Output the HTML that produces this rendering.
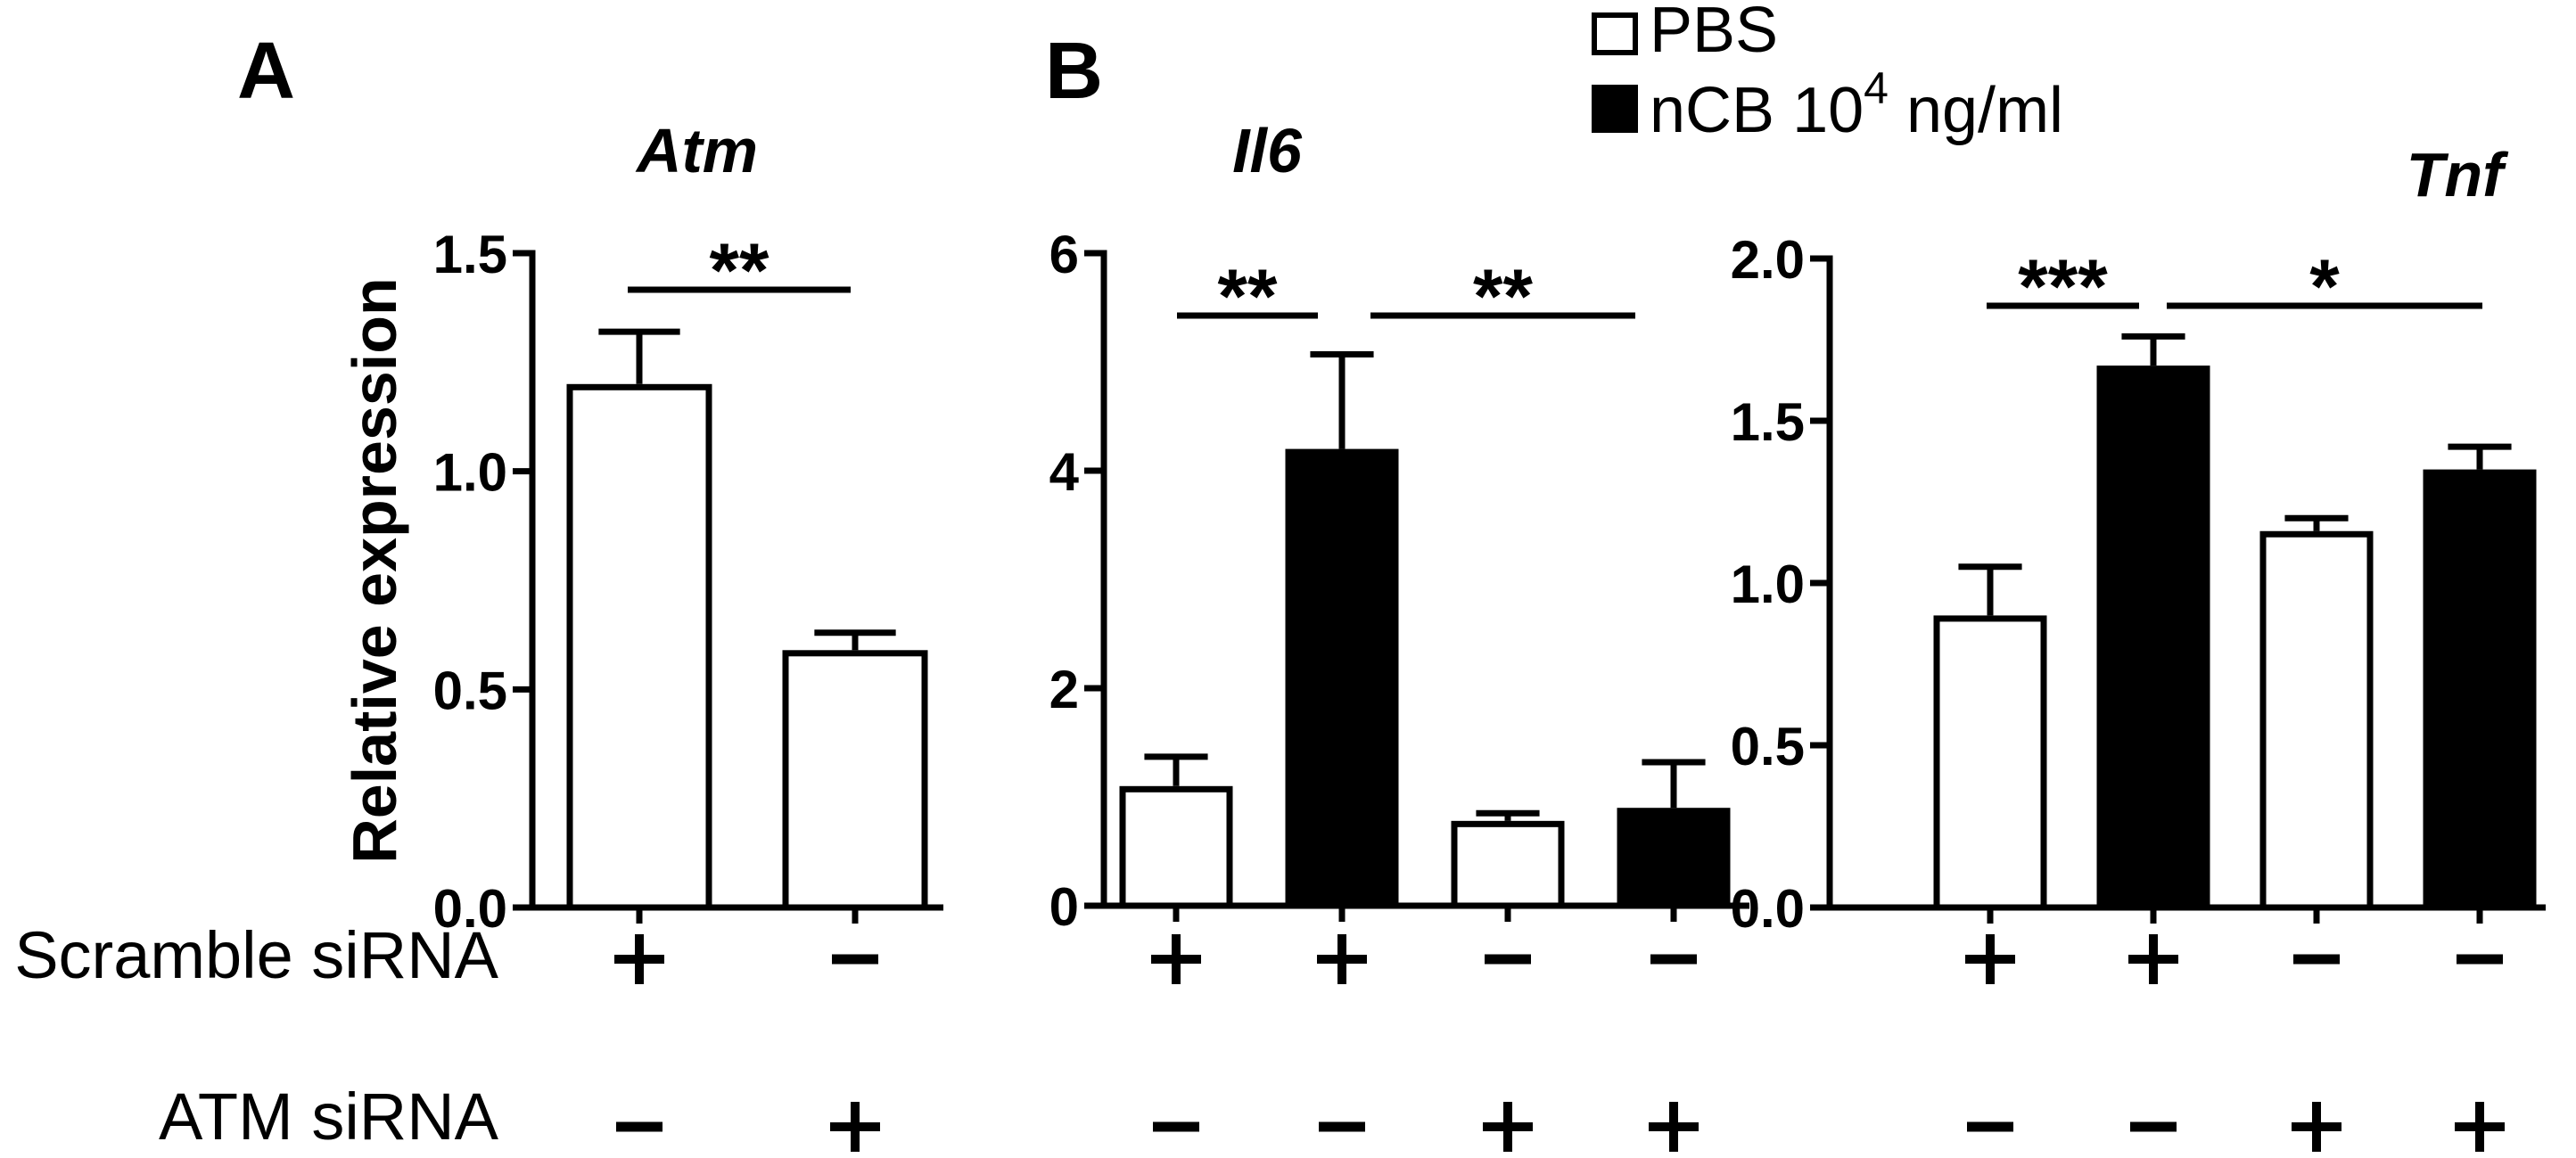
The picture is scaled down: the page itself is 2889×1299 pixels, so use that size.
<!DOCTYPE html>
<html><head><meta charset="utf-8"><style>
html,body{margin:0;padding:0;background:#fff}
svg{display:block}
text{font-family:"Liberation Sans",Arial,sans-serif;fill:#000}
</style></head><body>
<svg id="fig" width="2889" height="1299" viewBox="0 0 2889 1299" xmlns="http://www.w3.org/2000/svg">
<text x="266" y="110" font-size="90" font-weight="bold">A</text>
<text x="1172" y="110" font-size="90" font-weight="bold">B</text>
<text transform="translate(444,640) rotate(-90)" text-anchor="middle" font-size="70" font-weight="bold">Relative expression</text>
<g>
<rect x="1788" y="17" width="46" height="42" fill="#fff" stroke="#000" stroke-width="6"/>
<text x="1850" y="58" font-size="72">PBS</text>
<rect x="1785" y="95" width="52" height="54" fill="#000"/>
<text x="1850" y="148" font-size="72">nCB 10<tspan dy="-32" font-size="50">4</tspan><tspan dy="32"> ng/ml</tspan></text>
</g>
<text x="559" y="1097" text-anchor="end" font-size="74">Scramble siRNA</text>
<text x="559" y="1278" text-anchor="end" font-size="74">ATM siRNA</text>
</svg>
<script>
// Panel A (Atm)
const atmCats = ["Scramble", "ATM siRNA"];
const atmValues = [1.2, 0.59];
const atmErrors = [0.12, 0.04];
const atmTicks = ["0.0", "0.5", "1.0", "1.5"];
const atmScramble = ["+", "-"];
const atmAtm = ["-", "+"];
// Panel B (Il6)
const il6Values = [1.1, 4.2, 0.78, 0.9];
const il6Errors = [0.27, 0.87, 0.07, 0.42];
const il6Ticks = ["0", "2", "4", "6"];
// Panel C (Tnf)
const tnfValues = [0.9, 1.67, 1.16, 1.35];
const tnfErrors = [0.15, 0.09, 0.04, 0.07];
const tnfTicks = ["0.0", "0.5", "1.0", "1.5", "2.0"];
const groupFill = ["white", "black", "white", "black"];
const fourScramble = ["+", "+", "-", "-"];
const fourAtm = ["-", "-", "+", "+"];

const NS = "http://www.w3.org/2000/svg";
const svg = document.getElementById("fig");
function mk(tag, attrs, parent) {
  const e = document.createElementNS(NS, tag);
  for (const k in attrs) e.setAttribute(k, attrs[k]);
  (parent || svg).appendChild(e);
  return e;
}
const LW = 7;

function panel(cfg) {
  const g = mk("g", {});
  
  
  const y = v => cfg.y0 - (v / cfg.max) * (cfg.y0 - cfg.yTop);
  const x = i => cfg.x0 + i * cfg.step;
  const t = mk("text", {x: cfg.titleX, y: cfg.titleY, "text-anchor": "middle", "font-size": 70, "font-weight": "bold", "font-style": "italic"}, g);
  t.textContent = cfg.title;
  
  
  const ya = mk("line", {x1: cfg.ax, x2: cfg.ax, y1: cfg.yTop - LW/2, y2: cfg.y0 + LW/2, stroke: "#000", "stroke-width": LW}, g);
  
  
  cfg.ticks.forEach((lab, i) => {
    const v = parseFloat(lab);
    const yy = y(v);
    const tk = mk("line", {x1: cfg.ax - 22, x2: cfg.ax, y1: yy, y2: yy, stroke: "#000", "stroke-width": LW}, g);
    
    
    const tl = mk("text", {x: cfg.ax - 28, y: yy + 22, "text-anchor": "end", "font-size": 60, "font-weight": "bold"}, g);
    tl.textContent = lab;
    
    
  });
  const xa = mk("line", {x1: cfg.ax, x2: cfg.xEnd, y1: cfg.y0, y2: cfg.y0, stroke: "#000", "stroke-width": LW}, g);
  
  
  cfg.values.forEach((v, i) => {
    const cx = x(i), w = cfg.bw;
    const top = y(v);
    const eTop = y(v + cfg.errors[i]);
    const el = mk("line", {x1: cx, x2: cx, y1: eTop, y2: top, stroke: "#000", "stroke-width": LW}, g);
    
    
    const cap = mk("line", {x1: cx - w * 0.28, x2: cx + w * 0.28, y1: eTop, y2: eTop, stroke: "#000", "stroke-width": LW}, g);
    
    
    const r = mk("rect", {x: cx - w/2 + LW/2, y: top + LW/2, width: w - LW, height: Math.max(0, cfg.y0 - top - LW/2), fill: cfg.fills[i], stroke: "#000", "stroke-width": LW}, g);
    
    
    const xt = mk("line", {x1: cx, x2: cx, y1: cfg.y0, y2: cfg.y0 + 18, stroke: "#000", "stroke-width": LW}, g);
    
    
    [[cfg.row1[i], 1076], [cfg.row2[i], 1264]].forEach(([s, yy], k) => {
      let m;
      if (s === "+") {
        m = mk("path", {d: `M${cx-28},${yy} H${cx+28} M${cx},${yy-28} V${yy+28}`, stroke: "#000", "stroke-width": 10, fill: "none"}, g);
      } else {
        m = mk("path", {d: `M${cx-26},${yy} H${cx+26}`, stroke: "#000", "stroke-width": 11, fill: "none"}, g);
      }
      
      
    });
  });
  cfg.sig.forEach(s => {
    const ln = mk("line", {x1: s[0], x2: s[1], y1: s[2], y2: s[2], stroke: "#000", "stroke-width": LW}, g);
    
    
    const st = mk("text", {x: (s[0] + s[1]) / 2, y: s[2] + 8, "text-anchor": "middle", "font-size": 86, "font-weight": "bold"}, g);
    st.textContent = s[3];
    
    
  });
}

panel({name: "atm", title: "Atm", titleX: 782, titleY: 193, ax: 597, xEnd: 1058, y0: 1018, yTop: 284, max: 1.5,
  x0: 717, step: 242, bw: 163, values: atmValues, errors: atmErrors, ticks: atmTicks,
  fills: ["white", "white"], row1: atmScramble, row2: atmAtm,
  sig: [[704, 954, 325, "**"]]});
panel({name: "il6", title: "Il6", titleX: 1421, titleY: 193, ax: 1238, xEnd: 1962, y0: 1016, yTop: 284, max: 6,
  x0: 1319, step: 186, bw: 127, values: il6Values, errors: il6Errors, ticks: il6Ticks,
  fills: groupFill, row1: fourScramble, row2: fourAtm,
  sig: [[1320, 1478, 354, "**"], [1537, 1834, 354, "**"]]});
panel({name: "tnf", title: "Tnf", titleX: 2753, titleY: 220, ax: 2052, xEnd: 2855, y0: 1018, yTop: 290, max: 2.0,
  x0: 2232, step: 183, bw: 127, values: tnfValues, errors: tnfErrors, ticks: tnfTicks,
  fills: groupFill, row1: fourScramble, row2: fourAtm,
  sig: [[2228, 2399, 343, "***"], [2430, 2784, 343, "*"]]});
</script>
</body></html>
